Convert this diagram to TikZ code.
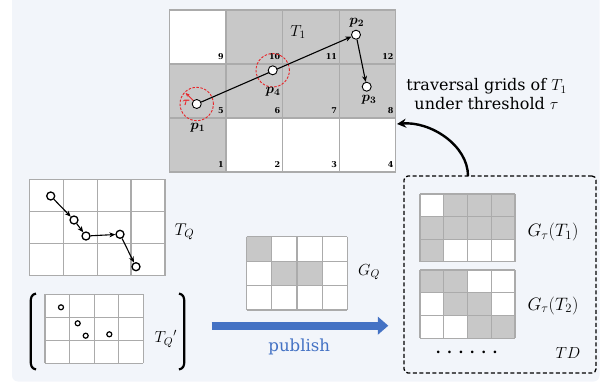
\RequirePackage{fix-cm}
\documentclass[tikz,border=0pt]{standalone}
\usepackage{fontspec}
\setmainfont{DejaVu Serif}
\usepackage{bm}
\usetikzlibrary{arrows.meta,calc}

\definecolor{bgpanel}{HTML}{F2F5FA}
\definecolor{cellgray}{HTML}{C8C8C8}
\definecolor{gridgray}{HTML}{ABABAB}
\definecolor{pubblue}{HTML}{4472C4}
\definecolor{taured}{HTML}{E8262A}

\tikzset{
  gline/.style={draw=gridgray, line width=1.2pt},
  bigpt/.style={circle, draw=black, fill=white, line width=0.9pt, minimum size=9pt, inner sep=0pt},
  qpt/.style={circle, draw=black, fill=white, line width=1.3pt, minimum size=8pt, inner sep=0pt},
  smallpt/.style={circle, draw=black, fill=white, line width=1.2pt, minimum size=5pt, inner sep=0pt},
  traj/.style={draw=black, line width=1.1pt, -{Stealth[length=6pt,width=5pt]}},
  cellnum/.style={font=\fontsize{8}{9}\selectfont\bfseries, inner sep=1.5pt, anchor=south east, xshift=-0.5pt, yshift=3pt},
  lbl/.style={font=\fontsize{16}{18}\selectfont, inner sep=0pt},
  ptlbl/.style={font=\fontsize{14}{15}\selectfont, inner sep=0pt},
  reach/.style={circle, draw=taured, dash pattern=on 2.5pt off 1.5pt, line width=0.9pt, minimum size=33.4pt, inner sep=0pt},
}

% 4 x 3 grid of cells: #1,#2 top-left corner, #3 cell width, #4 cell height, #5 extra drawing (shaded cells)
\newcommand\gridblock[5]{%
  \begin{scope}[shift={(#1,#2)}, x=#3pt, y=-#4pt]
    \fill[white] (0,0) rectangle (4,3);
    #5
    \foreach \i in {0,...,4} \draw[gline] (\i,0) -- (\i,3);
    \foreach \j in {0,...,3} \draw[gline] (0,\j) -- (4,\j);
  \end{scope}}
\newcommand\graycells[1]{\foreach \c/\r in {#1} \fill[cellgray] (\c,\r) rectangle ++(1,1);}

\begin{document}
\begin{tikzpicture}[x=1pt, y=-1pt]
  \useasboundingbox (0,0) rectangle (607,386);
  \fill[bgpanel, rounded corners=6pt] (12,-8) rectangle (599.5,381.5);

  % ---------- trajectory T1 on the 4x3 grid ----------
  \gridblock{169.3}{10}{56.6}{54}{%
    \graycells{1/0,2/0,3/0,0/1,1/1,2/1,3/1,0/2}%
    \foreach \c/\r/\n in {0/0/9,1/0/10,2/0/11,3/0/12,0/1/5,1/1/6,2/1/7,3/1/8,0/2/1,1/2/2,2/2/3,3/2/4}
      \node[cellnum] (num\n) at (\c+1,\r+1) {\n};%
  }
  \node[lbl, font=\fontsize{16}{17}\selectfont] (T1) at (298,32) {$T_1$};

  \node[reach] (r1) at (196.7,104) {};
  \node[reach] (r4) at (272.7,70.3) {};

  \node[bigpt] (p1) at (196.7,104) {};
  \node[bigpt] (p2) at (356,34.7) {};
  \node[bigpt] (p3) at (366.7,86.7) {};
  \draw[traj] (p1) -- (p2);
  \draw[traj] (p2) -- (p3);
  \node[bigpt] (p4) at (272.7,70.3) {};

  \path (p1.center) ++(-11,-11) coordinate (tauTip);
  \draw[taured, line width=0.8pt, -{Stealth[length=4pt,width=3.5pt]}] (p1) -- (tauTip);
  \node[ptlbl, text=taured, font=\fontsize{12}{13}\selectfont] (taulbl) at (186.3,103) {$\bm{\tau}$};

  \node[ptlbl] (p1lbl) at (197.7,128) {$\bm{p_1}$};
  \node[ptlbl] (p4lbl) at (273,92) {$\bm{p_4}$};
  \node[ptlbl] (p2lbl) at (356.7,22.7) {$\bm{p_2}$};
  \node[ptlbl] (p3lbl) at (369,100) {$\bm{p_3}$};

  \node[lbl, align=center, font=\fontsize{16}{18.5}\selectfont] (trav) at (486.5,94)
    {traversal grids of $T_1$\\under threshold $\tau$};

  % ---------- query trajectory T_Q ----------
  \gridblock{29.3}{179.3}{33.9}{32.1}{}
  \node[qpt] (q1) at (50.7,196) {};
  \node[qpt] (q2) at (74,220) {};
  \node[qpt] (q3) at (86,236) {};
  \node[qpt] (q4) at (120,234.3) {};
  \node[qpt] (q5) at (136,266.7) {};
  \draw[traj] (q1) -- (q2);
  \draw[traj] (q2) -- (q3);
  \draw[traj] (q3) -- (q4);
  \draw[traj] (q4) -- (q5);
  \node[lbl, font=\fontsize{17}{18}\selectfont] (TQ) at (184.5,231.7) {$T_Q$};

  % ---------- perturbed points T_Q' ----------
  \gridblock{45}{294.3}{24.6}{23}{}
  \node[smallpt] (s1) at (61,307.3) {};
  \node[smallpt] (s2) at (77.7,323.3) {};
  \node[smallpt] (s3) at (85.7,335.7) {};
  \node[smallpt] (s4) at (109.3,334.3) {};
  \node[lbl, font=\fontsize{16}{17}\selectfont] (TQp) at (165.8,339) {$T_Q{}'$};
  \draw[line width=2.2pt] (36,293.5) .. controls (31.5,294.5) and (30.7,297.5) .. (30.7,302)
    -- (30.7,361) .. controls (30.7,365.5) and (31.5,368.5) .. (36,369.5);
  \draw[line width=2.2pt] (179,293.5) .. controls (183.5,294.5) and (184.3,297.5) .. (184.3,302)
    -- (184.3,361) .. controls (184.3,365.5) and (183.5,368.5) .. (179,369.5);

  % ---------- grid cells of the query ----------
  \gridblock{246.7}{236.7}{25.15}{24.4}{\graycells{0/0,1/1,2/1}}
  \node[lbl, font=\fontsize{16}{17}\selectfont] (GQ) at (369,272.3) {$G_Q$};

  % ---------- publish arrow ----------
  \coordinate (pubS) at (211.7,325.7);
  \coordinate (pubE) at (388.3,325.7);
  \draw[pubblue, line width=8.3pt, -{Triangle[length=10.5pt,width=17.5pt]}] (pubS) -- (pubE);
  \node[lbl, text=pubblue, font=\fontsize{16.6}{18}\selectfont] (publish) at (299.3,346.7) {publish};

  % ---------- trajectory database TD ----------
  \node[draw=black, dash pattern=on 4pt off 2.5pt, line width=1.3pt, rounded corners=4pt,
        minimum width=192pt, minimum height=197pt, inner sep=0pt] (TDbox) at (500,274.5) {};
  \gridblock{420}{194}{23.75}{22.6}{\graycells{1/0,2/0,3/0,0/1,1/1,2/1,3/1,0/2}}
  \gridblock{420}{270}{23.75}{22.8}{\graycells{0/0,1/0,1/1,2/1,2/2,3/2}}
  \node[lbl, font=\fontsize{18}{19}\selectfont] (GT1) at (553,232) {$G_\tau(T_1)$};
  \node[lbl, font=\fontsize{18}{19}\selectfont] (GT2) at (553,305.7) {$G_\tau(T_2)$};
  \node[lbl, font=\fontsize{14}{15}\selectfont\bfseries] (dots) at (466.7,352) {. . . . . .};
  \node[lbl, font=\fontsize{16}{17}\selectfont] (TD) at (568,353) {$TD$};

  % ---------- link from TD to the traversal grids ----------
  \coordinate (cS) at (468,176);
  \coordinate (cE) at (397,124);
  \draw[line width=2.4pt, -{Stealth[length=9pt,width=9pt]}] (cS) .. controls (468,145) and (430,121) .. (cE);
\end{tikzpicture}
\end{document}
